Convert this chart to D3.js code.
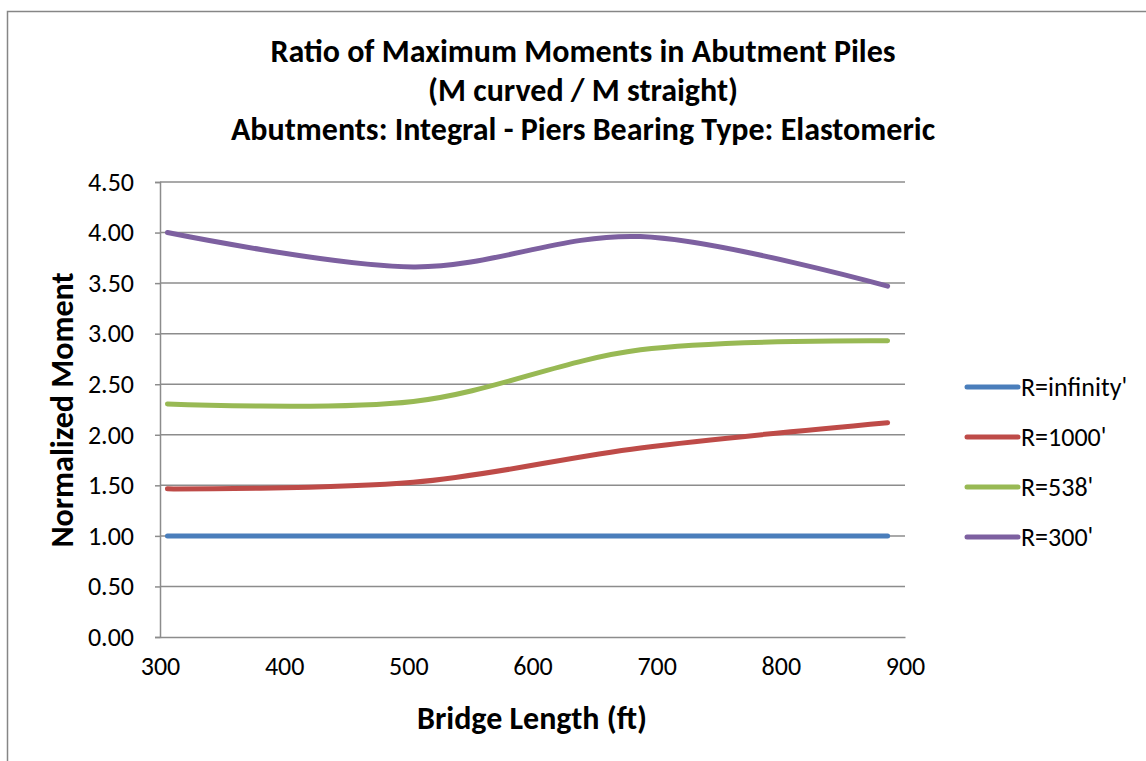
<!DOCTYPE html>
<html><head><meta charset="utf-8">
<script src="https://cdn.jsdelivr.net/npm/d3@7"></script>
<style>body{margin:0;background:#fff;} svg{display:block;}</style>
</head><body>
<svg id="chart" width="1146" height="761"></svg>
<script>
const titleLines = ["Ratio of Maximum Moments in Abutment Piles", "(M curved / M straight)", "Abutments: Integral - Piers Bearing Type: Elastomeric"];
const xLabel = "Bridge Length (ft)";
const yLabel = "Normalized Moment";
const bridgeLengths = [306, 504, 687, 886];
const seriesNames = ["R=infinity'", "R=1000'", "R=538'", "R=300'"];
const rInfinity = [1.00, 1.00, 1.00, 1.00];
const r1000 = [1.465, 1.53, 1.87, 2.12];
const r538 = [2.305, 2.33, 2.84, 2.93];
const r300 = [4.00, 3.66, 3.96, 3.47];
const seriesColors = ["#4A7EBB", "#BE4B48", "#98B954", "#7D60A0"];
const xTicks = [300, 400, 500, 600, 700, 800, 900];
const yTicks = [0, 0.5, 1, 1.5, 2, 2.5, 3, 3.5, 4, 4.5];

const series = [rInfinity, r1000, r538, r300].map((vals, i) => ({
  name: seriesNames[i], color: seriesColors[i],
  pts: vals.map((v, j) => ({x: bridgeLengths[j], y: v}))
}));

const svg = d3.select("#chart");
const font = "Calibri, Carlito, 'Open Sans', sans-serif";
const m = {left: 160, right: 905, top: 182, bottom: 637};

svg.append("rect").attr("x", 7.5).attr("y", 11.5).attr("width", 1160).attr("height", 770)
  .attr("fill", "#fff").attr("stroke", "#868686").attr("stroke-width", 1.5);

const x = d3.scaleLinear().domain([300, 900]).range([m.left, m.right]);
const y = d3.scaleLinear().domain([0, 4.5]).range([m.bottom, m.top]);

// gridlines
svg.append("g").selectAll("line").data(yTicks.filter(t => t > 0)).join("line")
  .attr("x1", m.left).attr("x2", m.right)
  .attr("y1", d => y(d)).attr("y2", d => y(d))
  .attr("stroke", "#8c8c8c").attr("stroke-width", 1.5);

// y axis
const yAxis = d3.axisLeft(y).tickValues(yTicks).tickFormat(d3.format(".2f")).tickSize(5).tickPadding(21);
const gy = svg.append("g").attr("transform", `translate(${m.left},0)`).call(yAxis);
gy.select(".domain").attr("stroke", "#8c8c8c").attr("stroke-width", 1.5);
gy.selectAll(".tick line").attr("stroke", "#8c8c8c").attr("stroke-width", 1.5);
gy.selectAll(".tick text").attr("font-family", font).attr("font-size", 26).attr("fill", "#000");

// x axis
const xAxis = d3.axisBottom(x).tickValues(xTicks).tickFormat(d3.format("d")).tickSize(0).tickPadding(20);
const gx = svg.append("g").attr("transform", `translate(0,${m.bottom})`).call(xAxis);
gx.select(".domain").attr("stroke", "#8c8c8c").attr("stroke-width", 1.5);
gx.selectAll(".tick text").attr("font-family", font).attr("font-size", 26).attr("fill", "#000");

// lines
const line = d3.line().x(d => x(d.x)).y(d => y(d.y)).curve(d3.curveCardinal.tension(0));
svg.append("g").selectAll("path").data(series).join("path")
  .attr("d", d => line(d.pts)).attr("fill", "none")
  .attr("stroke", d => d.color).attr("stroke-width", 5)
  .attr("stroke-linecap", "round").attr("stroke-linejoin", "round");

// title
svg.append("g").selectAll("text").data(titleLines).join("text")
  .attr("x", 583).attr("y", (d, i) => 62 + i * 39)
  .attr("text-anchor", "middle").attr("font-family", font).attr("font-weight", "bold")
  .attr("font-size", 32).attr("fill", "#000").text(d => d);

// axis titles
svg.append("text").attr("x", 532).attr("y", 729).attr("text-anchor", "middle")
  .attr("font-family", font).attr("font-weight", "bold").attr("font-size", 32).text(xLabel);
svg.append("text").attr("transform", "translate(73,410) rotate(-90)").attr("text-anchor", "middle")
  .attr("font-family", font).attr("font-weight", "bold").attr("font-size", 32).text(yLabel);

// legend
const legendY = d3.scalePoint().domain(seriesNames).range([387, 537]);
const lg = svg.append("g").selectAll("g").data(series).join("g")
  .attr("transform", d => `translate(0,${legendY(d.name)})`);
lg.append("line").attr("x1", 967).attr("x2", 1018).attr("y1", 0).attr("y2", 0)
  .attr("stroke", d => d.color).attr("stroke-width", 5).attr("stroke-linecap", "round");
lg.append("text").attr("x", 1021).attr("y", 9).attr("font-family", font).attr("font-size", 26)
  .attr("fill", "#000").text(d => d.name);
</script>
</body></html>
